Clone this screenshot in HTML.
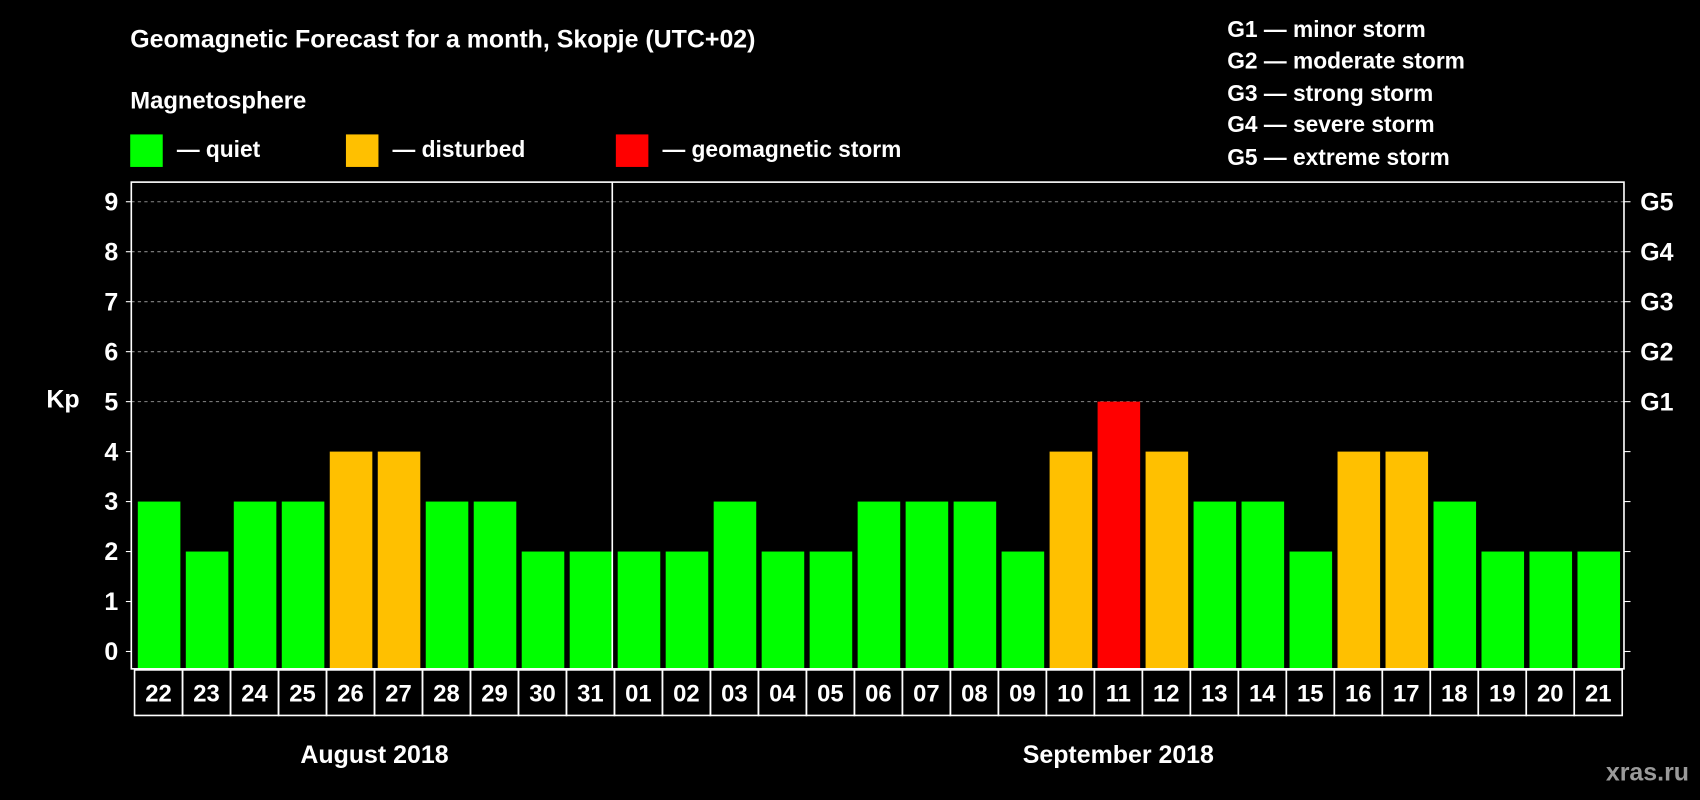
<!DOCTYPE html>
<html><head><meta charset="utf-8"><style>
html,body{margin:0;padding:0;background:#000;}
svg{display:block;font-family:"Liberation Sans",Arial,sans-serif;font-weight:bold;}
</style></head><body>
<svg id="chart" width="1700" height="800" viewBox="0 0 1568 738" xmlns="http://www.w3.org/2000/svg">
<rect width="1568" height="738" fill="#000"/>
<text x="120" y="44" fill="#fff" font-size="23">Geomagnetic Forecast for a month, Skopje (UTC+02)</text>
<text x="120" y="100" fill="#fff" font-size="22">Magnetosphere</text>
<g><rect x="120" y="124" width="30" height="30" fill="#00ff00"/><text x="163" y="145" fill="#fff" font-size="21">— quiet</text></g>
<g><rect x="319" y="124" width="30" height="30" fill="#ffc000"/><text x="362" y="145" fill="#fff" font-size="21">— disturbed</text></g>
<g><rect x="568" y="124" width="30" height="30" fill="#ff0000"/><text x="611" y="145" fill="#fff" font-size="21">— geomagnetic storm</text></g>
<g fill="#fff" font-size="21">
<text x="1132" y="34">G1 — minor storm</text>
<text x="1132" y="63">G2 — moderate storm</text>
<text x="1132" y="93">G3 — strong storm</text>
<text x="1132" y="122">G4 — severe storm</text>
<text x="1132" y="152">G5 — extreme storm</text>
</g>
<text x="58" y="376" fill="#fff" font-size="23" text-anchor="middle">Kp</text>
<text x="1558" y="720" fill="#9a9a9a" font-size="23" text-anchor="end">xras.ru</text>
<g id="plot"></g>
</svg>
<script>
const days=["22","23","24","25","26","27","28","29","30","31","01","02","03","04","05","06","07","08","09","10","11","12","13","14","15","16","17","18","19","20","21"];
const kp=[3,2,3,3,4,4,3,3,2,2,2,2,3,2,2,3,3,3,2,4,5,4,3,3,2,4,4,3,2,2,2];
const yTicks=[0,1,2,3,4,5,6,7,8,9];
const gLabels=["","","","","","G1","G2","G3","G4","G5"];
const months=[{name:"August 2018",from:0,to:9},{name:"September 2018",from:10,to:30}];
const NS="http://www.w3.org/2000/svg";
const g=document.getElementById('plot');
const L=121,R=1498,T=168,B=617,slot0=124,slotW=44.27;
const y=v=>601-v*46.1;
const xs=i=>slot0+i*slotW;
function mk(t,a){const e=document.createElementNS(NS,t);for(const k in a)e.setAttribute(k,a[k]);g.appendChild(e);return e;}
// grid
yTicks.forEach((v,i)=>{
 if(v>=5){const l=mk('line',{x1:L,x2:R,y1:y(v),y2:y(v),stroke:'#888','stroke-dasharray':'3,3','stroke-width':1});
 }
 const tl=mk('line',{x1:L-5,x2:L,y1:y(v),y2:y(v),stroke:'#fff'});
 
 const tr=mk('line',{x1:R,x2:R+6,y1:y(v),y2:y(v),stroke:'#fff'});
 
 const t=mk('text',{x:L-12,y:y(v)+8,fill:'#fff','font-size':23,'text-anchor':'end'});t.textContent=v;
 
 if(gLabels[i]){const gt=mk('text',{x:R+15,y:y(v)+8,fill:'#fff','font-size':23});gt.textContent=gLabels[i];
 }
});
// bars
kp.forEach((v,i)=>{
 const c=v>=5?'#ff0000':(v>=4?'#ffc000':'#00ff00');
 const r=mk('rect',{x:xs(i)+3,y:y(v),width:slotW-5,height:B-y(v),fill:c});
 
 const b=mk('rect',{x:xs(i),y:B+1,width:slotW,height:42,fill:'none',stroke:'#fff','stroke-width':1.5});
 
 const t=mk('text',{x:xs(i)+slotW/2,y:B+30,fill:'#fff','font-size':22,'text-anchor':'middle'});t.textContent=days[i];
 
});
// frame
const f=mk('rect',{x:L,y:T,width:R-L,height:B-T,fill:'none',stroke:'#fff','stroke-width':1.5});

const sep=mk('line',{x1:xs(10)-2,x2:xs(10)-2,y1:T,y2:B,stroke:'#fff','stroke-width':1.5});

months.forEach(m=>{
 const cx=(xs(m.from)+xs(m.to+1))/2;
 const t=mk('text',{x:cx,y:704,fill:'#fff','font-size':23,'text-anchor':'middle'});t.textContent=m.name;
 
});
</script>
</body></html>
